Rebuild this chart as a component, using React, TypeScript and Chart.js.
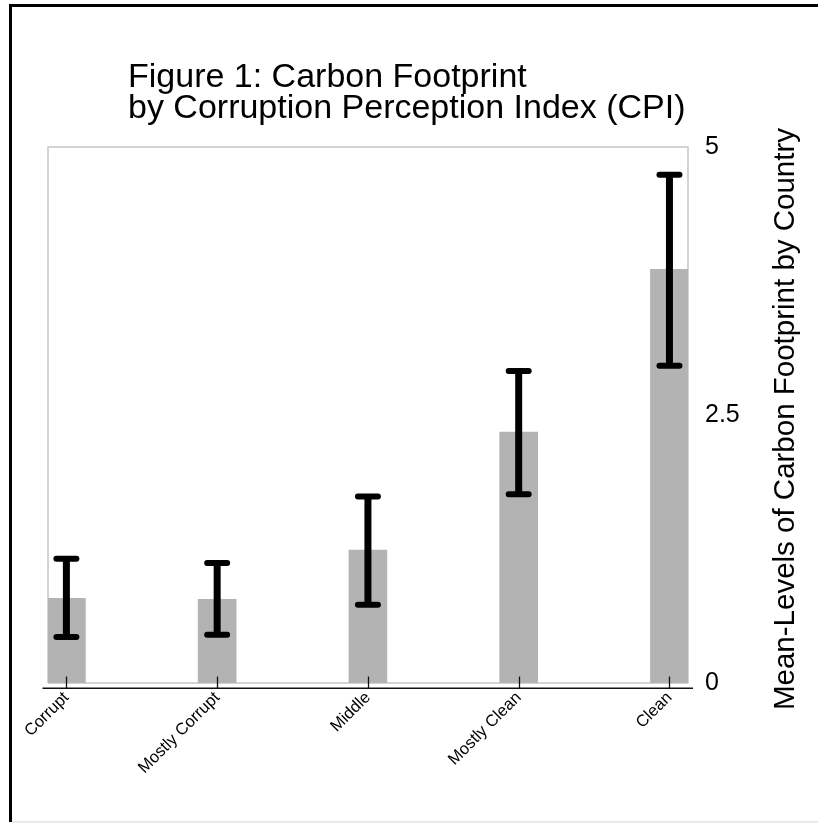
import React, { useEffect, useRef } from 'react';
import { Chart, registerables } from 'chart.js';

Chart.register(...registerables);

// ---- data ----
const categories = ['Corrupt', 'Mostly Corrupt', 'Middle', 'Mostly Clean', 'Clean'];
const means = [0.79, 0.78, 1.24, 2.34, 3.86];
const upper = [1.16, 1.12, 1.74, 2.91, 4.74];
const lower = [0.43, 0.45, 0.73, 1.76, 2.96];
const yTicks = [0, 2.5, 5];
const titleLines = ['Figure 1: Carbon Footprint', 'by Corruption Perception Index (CPI)'];
const yTitle = 'Mean-Levels of Carbon Footprint by Country';

const W = 818;
const H = 823;
const FONT = '"Liberation Sans", Arial, Helvetica, sans-serif';

const decorPlugin = {
  id: 'decor',
  beforeDatasetsDraw(chart: any) {
    const { ctx, chartArea: a } = chart;
    ctx.save();
    ctx.strokeStyle = '#c6c6c6';
    ctx.lineWidth = 1.5;
    ctx.beginPath();
    ctx.moveTo(a.left, a.bottom);
    ctx.lineTo(a.left, a.top);
    ctx.lineTo(a.right, a.top);
    ctx.lineTo(a.right, a.bottom);
    ctx.lineTo(a.left, a.bottom);
    ctx.stroke();
    ctx.restore();
  },
  afterDatasetsDraw(chart: any) {
    const { ctx, chartArea: a } = chart;
    const xs = chart.scales.x;
    const ys = chart.scales.y;
    ctx.save();
    ctx.strokeStyle = '#000';
    categories.forEach((_, i) => {
      const px = xs.getPixelForValue(i);
      const yt = ys.getPixelForValue(upper[i]);
      const yb = ys.getPixelForValue(lower[i]);
      ctx.lineCap = 'butt';
      ctx.lineWidth = 7;
      ctx.beginPath();
      ctx.moveTo(px, yt);
      ctx.lineTo(px, yb);
      ctx.stroke();
      ctx.lineCap = 'round';
      ctx.lineWidth = 6;
      ctx.beginPath();
      ctx.moveTo(px - 10, yt);
      ctx.lineTo(px + 10, yt);
      ctx.moveTo(px - 10, yb);
      ctx.lineTo(px + 10, yb);
      ctx.stroke();
    });
    // x axis line and ticks
    const axisY = a.bottom + 5.3;
    ctx.lineCap = 'butt';
    ctx.lineWidth = 1.6;
    ctx.strokeStyle = '#111';
    ctx.beginPath();
    ctx.moveTo(a.left - 5.5, axisY);
    ctx.lineTo(a.right + 5, axisY);
    ctx.stroke();
    ctx.lineWidth = 1.3;
    categories.forEach((_, i) => {
      const px = Math.round(xs.getPixelForValue(i)) + 0.5;
      ctx.beginPath();
      ctx.moveTo(px, a.bottom - 6.5);
      ctx.lineTo(px, axisY);
      ctx.stroke();
    });
    ctx.restore();
  },
  afterDraw(chart: any) {
    const { ctx } = chart;
    ctx.save();
    // frame
    ctx.strokeStyle = '#000';
    ctx.lineWidth = 3;
    ctx.beginPath();
    ctx.moveTo(W, 5.5);
    ctx.lineTo(9, 5.5);
    ctx.moveTo(10.5, 4);
    ctx.lineTo(10.5, 822);
    ctx.stroke();
    ctx.strokeStyle = '#e2e2e2';
    ctx.lineWidth = 1.5;
    ctx.beginPath();
    ctx.moveTo(12, 822);
    ctx.lineTo(W, 822);
    ctx.stroke();
    // title
    ctx.fillStyle = '#000';
    ctx.font = `34px ${FONT}`;
    ctx.textAlign = 'left';
    ctx.textBaseline = 'alphabetic';
    ctx.fillText(titleLines[0], 128, 87);
    ctx.fillText(titleLines[1], 128, 118);
    // y axis title
    ctx.translate(786, 419);
    ctx.rotate(-Math.PI / 2);
    ctx.textAlign = 'center';
    ctx.textBaseline = 'middle';
    ctx.font = `29.5px ${FONT}`;
    ctx.fillText(yTitle, 0, 0);
    ctx.restore();
  },
};

export default function App() {
  const ref = useRef<HTMLCanvasElement | null>(null);

  useEffect(() => {
    document.body.style.margin = '0';
    const canvas = ref.current;
    if (!canvas) return;
    const chart = new Chart(canvas, {
      type: 'bar',
      data: {
        datasets: [
          {
            data: means.map((m, i) => ({ x: i, y: m })),
            backgroundColor: '#b3b3b3',
            borderWidth: 0,
            barThickness: 38,
          },
        ],
      },
      options: {
        responsive: false,
        animation: false,
        devicePixelRatio: 1,
        layout: { padding: { top: 147, left: 48, right: 0, bottom: 0 } },
        plugins: {
          legend: { display: false },
          tooltip: { enabled: false },
          title: { display: false },
        },
        scales: {
          x: {
            type: 'linear',
            offset: false,
            min: -0.122,
            max: 4.123,
            grid: { display: false },
            border: { display: false },
            afterBuildTicks: (s: any) => {
              s.ticks = categories.map((_, i) => ({ value: i }));
            },
            afterFit: (s: any) => {
              s.height = H - 683;
            },
            ticks: {
              autoSkip: false,
              maxRotation: 45,
              minRotation: 45,
              padding: -3,
              color: '#000',
              font: { family: FONT, size: 16.5 },
              callback: (v: any) => categories[v] ?? '',
            },
          },
          y: {
            position: 'right',
            min: 0,
            max: 5,
            grid: { display: false },
            border: { display: false },
            afterBuildTicks: (s: any) => {
              s.ticks = yTicks.map((v) => ({ value: v }));
            },
            afterFit: (s: any) => {
              s.width = W - 688;
            },
            ticks: {
              padding: 9,
              color: '#000',
              font: { family: FONT, size: 25 },
              callback: (v: any) => String(v),
            },
          },
        },
      },
      plugins: [decorPlugin],
    } as any);
    return () => chart.destroy();
  }, []);

  return (
    <div style={{ width: W, height: H, background: '#fff' }}>
      <canvas ref={ref} width={W} height={H} style={{ display: 'block' }} />
    </div>
  );
}
